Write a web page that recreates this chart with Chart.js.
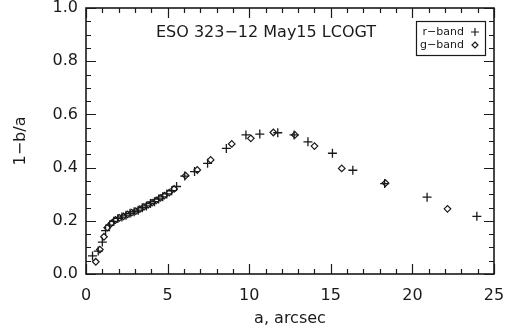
<!DOCTYPE html>
<html>
<head>
<meta charset="utf-8">
<script src="https://cdn.jsdelivr.net/npm/chart.js@4.4.1/dist/chart.umd.min.js"></script>
<style>
  body { margin: 0; background: #fff; }
  canvas { display: block; }
</style>
</head>
<body>
<canvas id="myChart" width="516" height="332"></canvas>
<script>
// ellipticity profile, r and g band
const rBandRadius = [0.40, 0.75, 1.00, 1.20, 1.45, 1.70, 1.95, 2.20, 2.45, 2.70, 2.95, 3.20, 3.45, 3.70, 3.95, 4.20, 4.45, 4.70, 4.95, 5.25, 5.55, 6.05, 6.65, 7.45, 8.60, 9.80, 10.65, 11.75, 12.75, 13.60, 15.10, 16.35, 18.30, 20.90, 23.95];
const rBandEllip = [0.068, 0.086, 0.120, 0.163, 0.184, 0.198, 0.209, 0.214, 0.221, 0.228, 0.234, 0.240, 0.249, 0.256, 0.265, 0.272, 0.282, 0.290, 0.301, 0.313, 0.329, 0.368, 0.385, 0.416, 0.472, 0.523, 0.526, 0.531, 0.523, 0.497, 0.454, 0.390, 0.340, 0.289, 0.217];
const gBandRadius = [0.60, 0.85, 1.10, 1.30, 1.55, 1.80, 2.05, 2.30, 2.55, 2.80, 3.05, 3.30, 3.55, 3.80, 4.05, 4.30, 4.55, 4.80, 5.10, 5.40, 6.10, 6.82, 7.64, 8.93, 10.10, 11.48, 12.80, 14.00, 15.67, 18.35, 22.15];
const gBandEllip = [0.046, 0.092, 0.140, 0.174, 0.190, 0.203, 0.211, 0.217, 0.224, 0.231, 0.236, 0.244, 0.252, 0.260, 0.268, 0.277, 0.286, 0.295, 0.306, 0.320, 0.370, 0.391, 0.429, 0.489, 0.510, 0.532, 0.523, 0.481, 0.397, 0.342, 0.245];

const plotTitle = "ESO 323\u221212 May15 LCOGT";
const legendLabels = ["r\u2212band", "g\u2212band"];

const FONT = '"DejaVu Sans", sans-serif';
const INK = "#1a1a1a";

function toPoints(xs, ys) {
  return xs.map((x, i) => ({ x: x, y: ys[i] }));
}

// IDL-style box: frame, inward ticks on all sides, title and legend
const frameAndTicks = {
  id: "frameAndTicks",
  afterDraw(chart) {
    const { ctx, chartArea: a, scales } = chart;
    const x = scales.x;
    const y = scales.y;
    ctx.save();
    ctx.strokeStyle = INK;
    ctx.lineWidth = 1.6;
    ctx.strokeRect(a.left, a.top, a.right - a.left, a.bottom - a.top);

    ctx.lineWidth = 1.2;
    ctx.beginPath();
    for (let v = 0; v <= 25; v++) {
      const px = Math.round(x.getPixelForValue(v)) + 0.5;
      const len = v % 5 === 0 ? 10 : 5;
      ctx.moveTo(px, a.bottom);
      ctx.lineTo(px, a.bottom - len);
      ctx.moveTo(px, a.top);
      ctx.lineTo(px, a.top + len);
    }
    for (let i = 0; i <= 20; i++) {
      const py = Math.round(y.getPixelForValue(i * 0.05)) + 0.5;
      const len = i % 4 === 0 ? 10 : 5;
      ctx.moveTo(a.left, py);
      ctx.lineTo(a.left + len, py);
      ctx.moveTo(a.right, py);
      ctx.lineTo(a.right - len, py);
    }
    ctx.stroke();

    // title inside the box
    ctx.fillStyle = INK;
    ctx.font = "16px " + FONT;
    ctx.textAlign = "center";
    ctx.textBaseline = "middle";
    ctx.fillText(plotTitle, a.left + 180, a.top + 25);

    // legend
    const bx = a.right - 78;
    const by = a.top + 13;
    ctx.lineWidth = 1.2;
    ctx.strokeRect(bx + 0.5, by + 0.5, 69, 34);
    ctx.font = "11px " + FONT;
    ctx.textAlign = "right";
    ctx.fillText(legendLabels[0], bx + 48, by + 11);
    ctx.fillText(legendLabels[1], bx + 48, by + 24);
    const sx = bx + 59;
    ctx.beginPath();
    ctx.moveTo(sx - 4, by + 11);
    ctx.lineTo(sx + 4, by + 11);
    ctx.moveTo(sx, by + 7);
    ctx.lineTo(sx, by + 15);
    ctx.moveTo(sx, by + 21);
    ctx.lineTo(sx + 3, by + 24);
    ctx.lineTo(sx, by + 27);
    ctx.lineTo(sx - 3, by + 24);
    ctx.closePath();
    ctx.stroke();
    ctx.restore();
  }
};

const ctx = document.getElementById("myChart").getContext("2d");
new Chart(ctx, {
  type: "scatter",
  data: {
    datasets: [
      {
        label: legendLabels[0],
        data: toPoints(rBandRadius, rBandEllip),
        pointStyle: "cross",
        pointRadius: 4.5,
        pointBorderWidth: 1.3,
        borderColor: INK,
        backgroundColor: INK
      },
      {
        label: legendLabels[1],
        data: toPoints(gBandRadius, gBandEllip),
        pointStyle: "rectRot",
        pointRadius: 3.3,
        pointBorderWidth: 1.2,
        borderColor: INK,
        backgroundColor: "rgba(0,0,0,0)"
      }
    ]
  },
  options: {
    responsive: false,
    animation: false,
    layout: { padding: { top: 8, right: 22, left: 0, bottom: 0 } },
    plugins: {
      legend: { display: false },
      tooltip: { enabled: false }
    },
    scales: {
      x: {
        type: "linear",
        min: 0,
        max: 25,
        grid: { display: false, drawTicks: false },
        border: { display: false },
        ticks: {
          stepSize: 5,
          maxRotation: 0,
          padding: 12,
          color: INK,
          font: { family: FONT, size: 16 }
        },
        title: {
          display: true,
          text: "a, arcsec",
          color: INK,
          font: { family: FONT, size: 16 },
          padding: { top: 0, bottom: 4 }
        },
        afterFit(scale) {
          scale.height = 58;
          scale.paddingLeft = 0;
          scale.paddingRight = 0;
        }
      },
      y: {
        type: "linear",
        min: 0,
        max: 1,
        grid: { display: false, drawTicks: false },
        border: { display: false },
        ticks: {
          stepSize: 0.2,
          padding: 8,
          color: INK,
          font: { family: FONT, size: 16, lineHeight: 1 },
          callback: (v) => v.toFixed(1)
        },
        title: {
          display: true,
          text: "1\u2212b/a",
          color: INK,
          font: { family: FONT, size: 16 },
          padding: { top: 11, bottom: 0 }
        },
        afterFit(scale) {
          scale.width = 86;
          scale.paddingTop = 0;
          scale.paddingBottom = 0;
        }
      }
    }
  },
  plugins: [frameAndTicks]
});
</script>
</body>
</html>
